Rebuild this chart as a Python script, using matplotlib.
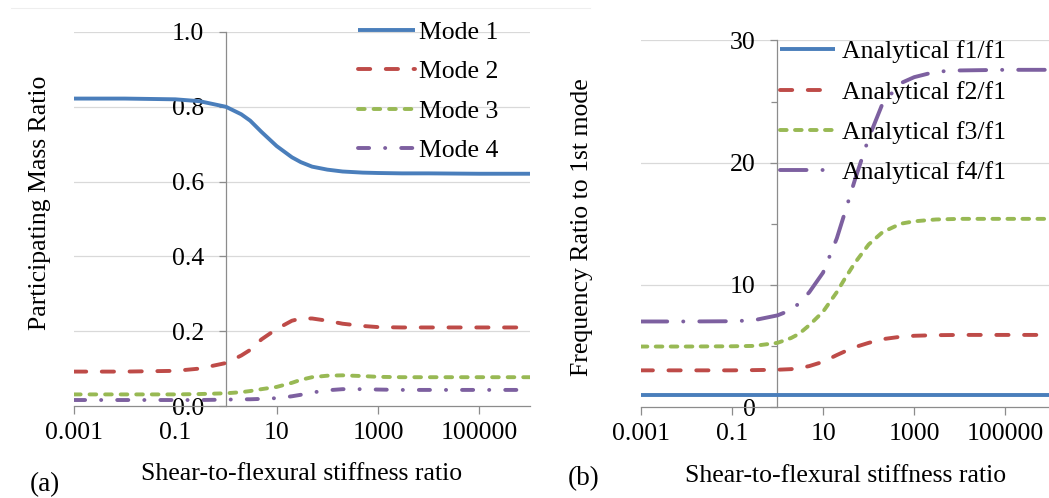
import matplotlib
matplotlib.use("Agg")
import matplotlib.pyplot as plt
from matplotlib.lines import Line2D
from matplotlib.ticker import FixedLocator, NullLocator

# shear-to-flexural stiffness ratio (x) shared by every curve
ratio = [0.001, 0.01, 0.1, 0.3, 1, 2, 3, 5, 10, 20, 30, 50, 100, 200, 500,
         1000, 3000, 1e4, 1e5, 1e6]

# (a) participating mass ratio
mode1 = [0.822, 0.822, 0.820, 0.815, 0.800, 0.780, 0.763, 0.733, 0.695, 0.665,
         0.652, 0.640, 0.632, 0.627, 0.624, 0.623, 0.622, 0.622, 0.621, 0.621]
mode2 = [0.092, 0.092, 0.094, 0.100, 0.115, 0.135, 0.150, 0.178, 0.206, 0.228,
         0.234, 0.234, 0.228, 0.220, 0.214, 0.211, 0.210, 0.210, 0.210, 0.210]
mode3 = [0.031, 0.031, 0.031, 0.032, 0.034, 0.037, 0.040, 0.045, 0.051, 0.062,
         0.070, 0.077, 0.081, 0.082, 0.080, 0.078, 0.077, 0.077, 0.077, 0.077]
mode4 = [0.016, 0.016, 0.016, 0.016, 0.017, 0.018, 0.018, 0.019, 0.021, 0.026,
         0.030, 0.036, 0.042, 0.045, 0.045, 0.044, 0.043, 0.043, 0.043, 0.043]
mode_labels = ["Mode 1", "Mode 2", "Mode 3", "Mode 4"]

# (b) frequency ratio to 1st mode
f1 = [1.0, 1.0, 1.0, 1.0, 1.0, 1.0, 1.0, 1.0, 1.0, 1.0,
      1.0, 1.0, 1.0, 1.0, 1.0, 1.0, 1.0, 1.0, 1.0, 1.0]
f2 = [3.0, 3.0, 3.0, 3.02, 3.05, 3.1, 3.18, 3.35, 3.7, 4.25,
      4.55, 4.9, 5.25, 5.55, 5.75, 5.83, 5.88, 5.9, 5.9, 5.9]
f3 = [4.95, 4.95, 4.97, 5.0, 5.25, 5.65, 6.0, 6.7, 7.8, 9.4,
      10.5, 11.8, 13.3, 14.3, 15.0, 15.2, 15.35, 15.4, 15.4, 15.4]
f4 = [7.0, 7.0, 7.02, 7.1, 7.5, 7.95, 8.5, 9.4, 11.0, 13.8,
      15.9, 18.6, 22.0, 24.8, 26.5, 27.0, 27.45, 27.55, 27.6, 27.6]
freq_labels = ["Analytical f1/f1", "Analytical f2/f1", "Analytical f3/f1", "Analytical f4/f1"]

xticks = [1e-3, 1e-1, 1e1, 1e3, 1e5]
xticklabels = ["0.001", "0.1", "10", "1000", "100000"]

plt.rcParams["font.family"] = ["Liberation Serif", "DejaVu Serif"]
plt.rcParams["lines.scale_dashes"] = False
FS = 18.5
BLUE, RED, GREEN, PURPLE = "#4A7EBB", "#BE4B48", "#98B954", "#7D60A0"
AXC, GRIDC = "#8C8C8C", "#D9D9D9"
LW = 2.8

W, H = 1049, 498
fig = plt.figure(figsize=(W / 100, H / 100), dpi=100)
fig.add_artist(Line2D([11 / W, 590 / W], [1 - 8 / H, 1 - 8 / H], color="#EEEEEE", lw=0.8))

def style(ax, yticks, ylabels, yminor, ylim, xlab_y):
    ax.set_xscale("log")
    ax.set_xlim(1e-3, 1e6)
    ax.set_ylim(*ylim)
    ax.xaxis.set_major_locator(FixedLocator(xticks))
    ax.xaxis.set_minor_locator(NullLocator())
    ax.set_xticklabels(xticklabels)
    ax.set_yticks(yticks)
    ax.set_yticklabels(ylabels)
    ax.yaxis.set_minor_locator(FixedLocator(yminor))
    for s in ("top", "right"):
        ax.spines[s].set_visible(False)
    ax.spines["left"].set_position(("data", 1))
    for s in ("left", "bottom"):
        ax.spines[s].set_color(AXC)
        ax.spines[s].set_linewidth(0.9)
    ax.tick_params(axis="x", which="major", direction="out", length=6, width=0.9,
                   color=AXC, labelsize=FS, pad=5.5)
    ax.tick_params(axis="y", which="major", direction="out", length=5.2, width=0.9,
                   color=AXC, labelsize=FS, pad=10.5)
    ax.tick_params(axis="y", which="minor", direction="out", length=4, width=0.9, color=AXC)
    for y in yticks[1:]:
        ax.axhline(y, color=GRIDC, lw=0.9, zorder=0.5)
    ax.set_xlabel("Shear-to-flexural stiffness ratio", fontsize=FS)
    ax.xaxis.set_label_coords(0.5, xlab_y)

kw = dict(lw=LW, zorder=3, dash_capstyle="round", solid_capstyle="butt")

# ---- (a) participating mass ratio
axL = fig.add_axes([74 / W, (H - 406) / H, 456 / W, 374 / H])
style(axL, [0, 0.2, 0.4, 0.6, 0.8, 1.0], ["0.0", "0.2", "0.4", "0.6", "0.8", "1.0"], [], (0, 1.0), -0.152)
axL.plot(ratio, mode1, color=BLUE, label=mode_labels[0], **kw)
axL.plot(ratio, mode2, color=RED, dashes=(8.8, 11.2), label=mode_labels[1], **kw)
axL.plot(ratio, mode3, color=GREEN, dashes=(4.8, 6.4), label=mode_labels[2], **kw)
axL.plot(ratio, mode4, color=PURPLE, dashes=(8.0, 11.5, 0.1, 11.5), label=mode_labels[3], **kw)
axL.set_ylabel("Participating Mass Ratio", fontsize=FS)
axL.yaxis.set_label_coords(-0.05, 0.544)
fig.legend(*axL.get_legend_handles_labels(), loc="upper left",
           bbox_to_anchor=(358 / W, 0.958), frameon=False, fontsize=FS,
           borderpad=0, borderaxespad=0, handlelength=2.22, handletextpad=0.16,
           labelspacing=0.64)
fig.text(30 / W, 1 - 491 / H, "(a)", fontsize=FS + 1, ha="left", va="baseline")

# ---- (b) frequency ratio to 1st mode
axR = fig.add_axes([640.7 / W, (H - 407) / H, 410.3 / W, 366.5 / H])
style(axR, [0, 10, 20, 30], ["0", "10", "20", "30"], [5, 15, 25], (0, 30), -0.157)
axR.plot(ratio, f1, color=BLUE, label=freq_labels[0], **kw)
axR.plot(ratio, f2, color=RED, dashes=(8.8, 11.2), label=freq_labels[1], **kw)
axR.plot(ratio, f3, color=GREEN, dashes=(4.8, 6.0), label=freq_labels[2], **kw)
axR.plot(ratio, f4, color=PURPLE, dashes=(19.1, 11.5, 0.1, 11.5), label=freq_labels[3], **kw)
axR.set_ylabel("Frequency Ratio to 1st mode", fontsize=FS)
axR.yaxis.set_label_coords(-0.117, 0.491)
fig.legend(*axR.get_legend_handles_labels(), loc="upper left",
           bbox_to_anchor=(780 / W, 0.919), frameon=False, fontsize=FS,
           borderpad=0, borderaxespad=0, handlelength=2.14, handletextpad=0.27,
           labelspacing=0.67)
fig.text(568 / W, 1 - 485 / H, "(b)", fontsize=FS + 1, ha="left", va="baseline")

fig.savefig("out.png", dpi=100)
